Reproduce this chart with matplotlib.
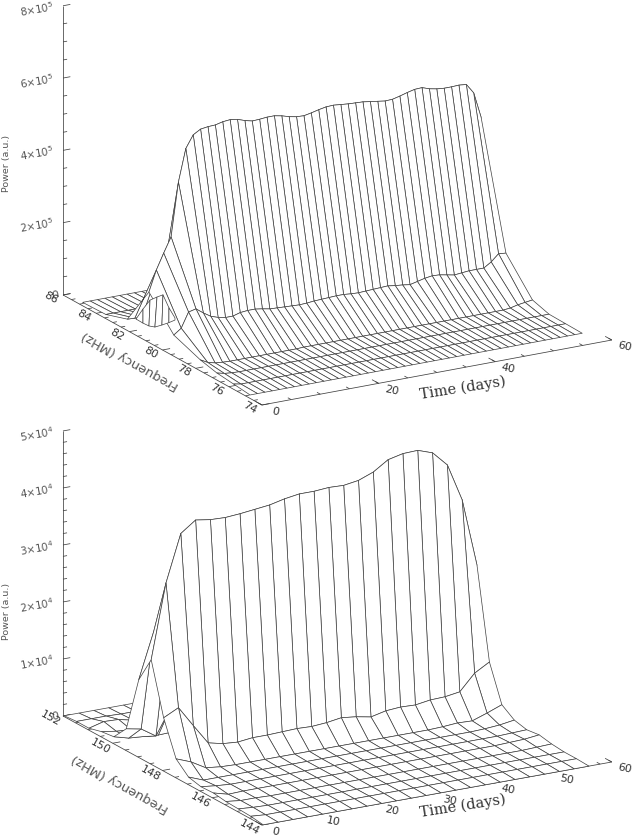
import matplotlib
matplotlib.use('Agg')
from matplotlib import pyplot as plt
from matplotlib.collections import PolyCollection

plt.rcParams['font.family'] = ['DejaVu Sans']
plt.rcParams['mathtext.default'] = 'regular'

LINE = '#404040'
TEXT = '#555555'

# ---- upper panel, power in units of 1e5
top_time = [0.8, 2.07, 3.33, 4.6, 5.86, 7.13, 8.4, 9.66, 10.93, 12.19, 13.46, 14.73, 15.99, 17.26, 18.52, 19.79,
            21.06, 22.32, 23.59, 24.85, 26.12, 27.39, 28.65, 29.92, 31.18, 32.45, 33.72, 34.98, 36.25, 37.51, 38.78,
            40.05, 41.31, 42.58, 43.84, 45.11, 46.38, 47.64, 48.91, 50.17, 51.44, 52.71, 53.97, 55.24, 56.5, 57.77]
top_freq = [75, 76, 77, 78, 79.6, 81.1, 82.4, 83.7, 85.1]
top_p75 = [0.0, 0, 0, 0, 0, 0, 0, 0, 0, 0, 0, 0, 0, 0, 0, 0, 0, 0, 0, 0, 0, 0, 0, 0, 0, 0, 0, 0, 0, 0, 0, 0, 0, 0, 0, 0, 0, 0, 0, 0, 0, 0, 0, 0, 0, 0]
top_p76 = [.05, .01, .01, .01, .01, .01, .01, .01, .01, .01, .01, .01, .01, .01, .01, .01, .01, .01, .01, .01, .01, .01, .01,
           .01, .01, .01, .01, .01, .01, .01, .01, .01, .01, .01, .01, .01, .01, .01, .01, .01, .01, .01, .01, .01, .01, .01]
top_p77 = [.10, .05, .03, .02, .02, .02, .02, .02, .02, .02, .02, .02, .02, .02, .02, .02, .02, .02, .02, .02, .02, .02, .02,
           .02, .02, .02, .02, .02, .02, .02, .02, .02, .02, .02, .02, .02, .02, .02, .02, .02, .02, .02, .02, .02, .02, .02]
top_p78 = [.21, .10, .05, .03, .02, .02, .02, .02, .02, .02, .02, .02, .02, .02, .03, .03, .03, .03, .03, .03, .03, .03, .03,
           .03, .03, .03, .03, .03, .03, .03, .03, .03, .03, .03, .03, .03, .03, .03, .03, .03, .03, .03, .05, .10, .13, .16]
top_p796 = [.49, .64, 1.05, 1.10, .95, .82, .75, .71, .71, .77, .79, .79, .76, .72, .71, .70, .69, .68, .69, .71, .72, .73, .74,
            .74, .72, .71, .72, .73, .74, .75, .72, .70, .67, .72, .77, .80, .79, .75, .71, .73, .75, .75, .75, .88, 1.07, 1.05]
top_p811 = [1.30, 1.87, 2.30, 2.71, 4.19, 5.08, 5.42, 5.54, 5.57, 5.58, 5.63, 5.65, 5.62, 5.55, 5.50, 5.51, 5.53, 5.53, 5.49, 5.43,
            5.39, 5.38, 5.42, 5.47, 5.51, 5.52, 5.50, 5.48, 5.47, 5.46, 5.43, 5.40, 5.37, 5.38, 5.43, 5.49, 5.54, 5.55, 5.48, 5.44,
            5.42, 5.42, 5.43, 5.41, 5.14, 4.43]
top_p824 = [.22, .21, .20, .20, .20, .25, .5, .8, 1, 1, 1, 1, 1, 1, 1, 1, 1, 1, 1, 1, 1, 1, 1,
            1, 1, 1, 1, 1, 1, 1, 1, 1, 1, 1, 1, 1, 1, 1, 1, 1, 1, 1, 1, 1, 1, 1]
top_p837 = [.02, .02, .02, .02, .02, .02, .02, .02, .02, .02, .02, .02, .02, .02, .02, .02, .02, .02, .02, .02, .02, .02, .02,
            .02, .02, .02, .02, .02, .02, .02, .02, .02, .02, .02, .02, .02, .02, .02, .02, .02, .02, .02, .02, .02, .02, .02]
top_p851 = [0.0, 0, 0, 0, 0, 0, 0, 0, 0, 0, 0, 0, 0, 0, 0, 0, 0, 0, 0, 0, 0, 0, 0, 0, 0, 0, 0, 0, 0, 0, 0, 0, 0, 0, 0, 0, 0, 0, 0, 0, 0, 0, 0, 0, 0, 0]
top_power = [top_p75, top_p76, top_p77, top_p78, top_p796, top_p811, top_p824, top_p837, top_p851]

# small hump at the low-time end of the upper surface
hill_time_a = [2.28, 3.48, 4.68, 5.88, 6.9, 7.93, 8.96]
hill_power_a = [.18, .42, .63, .68, .71, .32, .01]
hill_freq_a = 82.4
hill_time_b = [0.85, 2.05, 3.08, 4.1, 5.3, 6.5, 7.54]
hill_power_b = [.35, .20, .09, .03, .05, .08, .12]
hill_freq_b = 81.9

# ---- lower panel, power in units of 1e4
bot_time = [0.2, 2.74, 5.28, 7.82, 10.36, 12.9, 15.44, 17.98, 20.52, 23.06, 25.6, 28.14, 30.68, 33.22, 35.76, 38.3,
            40.84, 43.38, 45.92, 48.46, 51, 53.54, 56.08]
bot_freq = [144, 144.5, 145, 145.5, 146, 146.5, 147, 147.5, 148, 148.5, 149, 149.5, 150, 150.5, 151, 151.5, 152]
bot_power = [
    [0.0, 0, 0, 0, 0, 0, 0, 0, 0, 0, 0, 0, 0, 0, 0, 0, 0, 0, 0, 0, 0, 0, 0],
    [.03, .01, .01, .01, .01, .01, .01, .01, .01, .01, .01, .01, .01, .01, .01, .01, .01, .01, .01, .01, .01, .01, .01],
    [.04, .02, .01, .01, .01, .01, .01, .01, .01, .01, .01, .01, .01, .01, .01, .01, .01, .01, .01, .01, .01, .01, .01],
    [.05, .02, .02, .01, .01, .01, .01, .01, .01, .01, .01, .01, .01, .01, .01, .01, .01, .01, .01, .01, .01, .02, .03],
    [.08, .01, .02, .02, .02, .02, .02, .02, .02, .02, .02, .02, .02, .02, .02, .02, .02, .02, .02, .02, .03, .04, .07],
    [.07, .04, .02, .02, .02, .02, .02, .02, .02, .02, .02, .02, .02, .02, .02, .02, .02, .02, .02, .02, .02, .03, .04],
    [.12, .02, .02, .02, .02, .02, .02, .02, .02, .02, .02, .02, .02, .02, .02, .02, .02, .02, .02, .02, .03, .05, .09],
    [.32, .22, .07, .04, .03, .03, .03, .03, .03, .03, .03, .03, .03, .03, .03, .03, .03, .03, .04, .06, .05, .14, .24],
    [.92, 1.05, .69, .34, .28, .26, .29, .29, .30, .31, .30, .32, .36, .33, .28, .34, .36, .35, .39, .40, .44, .72, .87],
    [1.82, 3.12, 3.94, 4.13, 4.09, 4.08, 4.10, 4.13, 4.16, 4.22, 4.26, 4.26, 4.28, 4.27, 4.31, 4.41, 4.58, 4.64, 4.65, 4.56, 4.30, 3.64, 2.45],
    [1.35, 2.14, 2.2, 2.2, 2.2, 2.2, 2.2, 2.2, 2.2, 2.2, 2.2, 2.2, 2.2, 2.2, 2.2, 2.2, 2.2, 2.2, 2.2, 2.2, 2.2, 2.2, 2.0],
    [.37, .32, .15, .6, .8, .8, .8, .8, .8, .8, .8, .8, .8, .8, .8, .8, .8, .8, .8, .8, .8, .8, .8],
    [.11, .04, .02, .0, .01, .1, .1, .1, .1, .1, .1, .1, .1, .1, .1, .1, .1, .1, .1, .1, .1, .1, .1],
    [.08, .04, .02, .01, .01, .01, .01, .01, .01, .01, .01, .01, .01, .01, .01, .01, .01, .01, .01, .01, .01, .01, .01],
    [.02, .09, .08, .02, .01, .01, .01, .01, .01, .01, .01, .01, .01, .01, .01, .01, .01, .01, .01, .01, .01, .01, .01],
    [.02, .02, .02, .01, .01, .01, .01, .01, .01, .01, .01, .01, .01, .01, .01, .01, .01, .01, .01, .01, .01, .01, .01],
    [0.0, 0, 0, 0, 0, 0, 0, 0, 0, 0, 0, 0, 0, 0, 0, 0, 0, 0, 0, 0, 0, 0, 0],
]

# axis tick values
top_freq_major = [74, 76, 78, 80, 82, 84, 86]
top_time_major = [0, 20, 40, 60]
top_power_major = [0, 2, 4, 6, 8]
top_power_labels = ['0', '2×10$^5$', '4×10$^5$', '6×10$^5$', '8×10$^5$']
bot_freq_major = [144, 146, 148, 150, 152]
bot_time_major = [0, 10, 20, 30, 40, 50, 60]
bot_power_major = [0, 1, 2, 3, 4, 5]
bot_power_labels = ['0', '1×10$^4$', '2×10$^4$', '3×10$^4$', '4×10$^4$', '5×10$^4$']


class Oblique:
    # oblique view of the box, gives figure pixels for (time, freq, power)
    def __init__(self, origin, per_day, per_mhz, per_power, fmin):
        self.origin = origin
        self.per_day = per_day
        self.per_mhz = per_mhz
        self.per_power = per_power
        self.fmin = fmin

    def __call__(self, t, f, p=0):
        x = self.origin[0] + self.per_day[0] * t + self.per_mhz[0] * (f - self.fmin)
        y = self.origin[1] + self.per_day[1] * t + self.per_mhz[1] * (f - self.fmin) - self.per_power * p
        return x, y


def draw_mesh(ax, view, time, freq, power, zorder=2):
    # back to front so the white faces hide what is behind them
    for j in range(len(freq) - 2, -1, -1):
        polys = []
        for i in range(len(time) - 2, -1, -1):
            polys.append([view(time[i], freq[j], power[j][i]),
                          view(time[i + 1], freq[j], power[j][i + 1]),
                          view(time[i + 1], freq[j + 1], power[j + 1][i + 1]),
                          view(time[i], freq[j + 1], power[j + 1][i])])
        ax.add_collection(PolyCollection(polys, facecolors='white', edgecolors=LINE, linewidths=0.5,
                                         zorder=zorder + (len(freq) - j) * 0.01))


def seg(ax, a, b, lw=0.55):
    ax.plot([a[0], b[0]], [a[1], b[1]], color=LINE, lw=lw, zorder=1, solid_capstyle='butt')


def draw_axes(ax, view, fmin, fmax, fmajor, ftick, tmajor, tminor_step, pmajor, plabels, pnminor, title_xy, ftitle_xy):
    tmax = 60
    seg(ax, view(0, fmin), view(0, fmax))
    seg(ax, view(0, fmin), view(tmax, fmin))
    seg(ax, view(0, fmax), view(0, fmax, pmajor[-1]))

    # power axis
    for k, p in enumerate(pmajor):
        seg(ax, view(0, fmax, p), view(1.25, fmax, p))
        x, y = view(0, fmax, p)
        if k == 0:
            ax.text(x - 8, y, plabels[k], ha='center', va='center', fontsize=8, color=TEXT, rotation=10, zorder=5)
        else:
            ax.text(x - 26, y + 3, plabels[k], ha='center', va='center', fontsize=7.5, color=TEXT, rotation=10, zorder=5)
        if k < len(pmajor) - 1:
            step = (pmajor[k + 1] - p) / pnminor
            for m in range(1, pnminor):
                seg(ax, view(0, fmax, p + m * step), view(0.7, fmax, p + m * step))

    # frequency axis
    for k, f in enumerate(fmajor):
        seg(ax, view(0, f), view(1.3, f))
        x, y = view(0, f)
        ax.text(x - 12, y + 3, str(f), ha='center', va='center', fontsize=8, color='#333333', rotation=-29, zorder=5)
        if k < len(fmajor) - 1:
            for m in (0.5, 1, 1.5):
                seg(ax, view(0, f + m), view(0.7, f + m))

    # time axis
    t = 0
    while t <= tmax:
        seg(ax, view(t, fmin), view(t, fmin + ftick * 0.5))
        t += tminor_step
    for t in tmajor:
        seg(ax, view(t, fmin), view(t, fmin + ftick))
        x, y = view(t, fmin)
        ax.text(x + 13, y + 7, str(t), ha='center', va='center', fontsize=8, color='#333333', rotation=-12, zorder=5)

    ax.text(title_xy[0], title_xy[1], 'Time (days)', ha='center', va='center', fontsize=10.5, family='DejaVu Serif',
            color='#333333', rotation=9, zorder=5)
    ax.text(ftitle_xy[0], ftitle_xy[1], 'Frequency (MHz)', ha='center', va='center', fontsize=9.3, color=TEXT,
            rotation=151, rotation_mode='anchor', zorder=5)


fig = plt.figure(figsize=(6.34, 8.36), dpi=100)
ax = fig.add_axes([0, 0, 1, 1])
ax.set_xlim(0, 634)
ax.set_ylim(836, 0)
ax.axis('off')

top_view = Oblique((262, 405), (5.83, -1.083), (-16.58, -9.17), 36.15, 74)
bot_view = Oblique((262, 825), (5.83, -1.05), (-24.88, -13.63), 57.0, 144)

draw_axes(ax, top_view, 74, 86, top_freq_major, 0.4, top_time_major, 5, top_power_major, top_power_labels, 4,
          (463, 388), (130, 360))
draw_axes(ax, bot_view, 144, 152, bot_freq_major, 0.27, bot_time_major, 2, bot_power_major, bot_power_labels, 5,
          (463, 806), (120, 783))

draw_mesh(ax, top_view, top_time, top_freq, top_power)
draw_mesh(ax, bot_view, bot_time, bot_freq, bot_power)

hill = []
for i in range(len(hill_time_a) - 1):
    hill.append([top_view(hill_time_a[i], hill_freq_a, hill_power_a[i]),
                 top_view(hill_time_a[i + 1], hill_freq_a, hill_power_a[i + 1]),
                 top_view(hill_time_b[i + 1], hill_freq_b, hill_power_b[i + 1]),
                 top_view(hill_time_b[i], hill_freq_b, hill_power_b[i])])
ax.add_collection(PolyCollection(hill, facecolors='white', edgecolors=LINE, linewidths=0.5, zorder=3))

ax.text(7, 163, 'Power (a.u.)', ha='center', va='center', rotation=90, fontsize=6.8, color=TEXT)
ax.text(7, 611, 'Power (a.u.)', ha='center', va='center', rotation=90, fontsize=6.8, color=TEXT)

fig.savefig('out.png', dpi=100)
